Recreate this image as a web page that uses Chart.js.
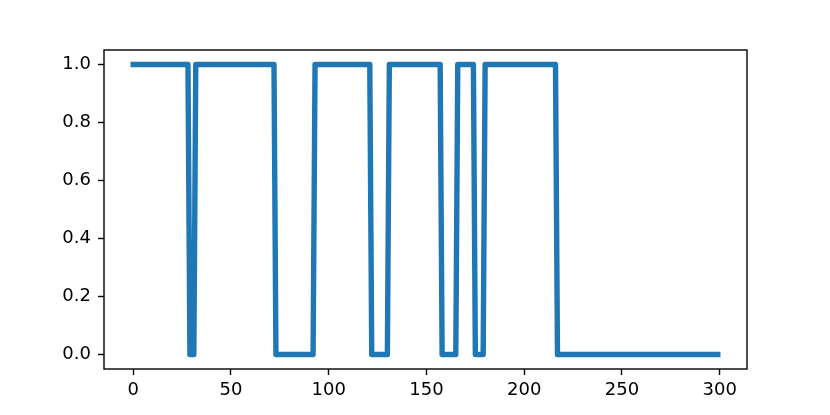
<!DOCTYPE html>
<html>
<head>
<meta charset="utf-8">
<script src="https://cdn.jsdelivr.net/npm/chart.js@4.4.1/dist/chart.umd.min.js"></script>
<style>
    body { margin: 0; background: white; }
</style>
</head>
<body>
<canvas id="grafico" width="830" height="415"></canvas>
<script>
// vertices of the step line (x, y)
const puntosX = [0, 28, 29, 31, 32, 72, 73, 92, 93, 121, 122, 130, 131, 157, 158, 165, 166, 174, 175, 179, 180, 216, 217, 299];
const puntosY = [1, 1, 0, 0, 1, 1, 0, 0, 1, 1, 0, 0, 1, 1, 0, 0, 1, 1, 0, 0, 1, 1, 0, 0];

const ticksX = [0, 50, 100, 150, 200, 250, 300];
const ticksY = [0.0, 0.2, 0.4, 0.6, 0.8, 1.0];

const datos = [];
for (let i = 0; i < puntosX.length; i++) {
    datos.push({ x: puntosX[i], y: puntosY[i] });
}

const bgColor = {
    id: 'bgColor',
    beforeDraw: (chart) => {
        const { ctx, width, height } = chart;
        ctx.save();
        ctx.fillStyle = 'white';
        ctx.fillRect(0, 0, width, height);
        ctx.restore();
    }
};

// black frame around the plot area, like matplotlib spines
const marco = {
    id: 'marco',
    afterDraw: (chart) => {
        const { ctx, chartArea } = chart;
        ctx.save();
        ctx.strokeStyle = '#000';
        ctx.lineWidth = 1.4;
        ctx.strokeRect(chartArea.left, chartArea.top, chartArea.right - chartArea.left, chartArea.bottom - chartArea.top);
        ctx.restore();
    }
};

const fuente = { family: 'DejaVu Sans', size: 18 };

const ctx = document.getElementById('grafico').getContext('2d');
const chart = new Chart(ctx, {
    type: 'line',
    data: {
        datasets: [{
            data: datos,
            borderColor: '#1f77b4',
            borderWidth: 5.4,
            borderCapStyle: 'square',
            borderJoinStyle: 'round',
            pointRadius: 0,
            tension: 0,
            fill: false
        }]
    },
    options: {
        responsive: false,
        devicePixelRatio: 1,
        animation: false,
        layout: { padding: { top: 50, right: 83, left: 0, bottom: 0 } },
        plugins: {
            legend: { display: false },
            tooltip: { enabled: false }
        },
        scales: {
            x: {
                type: 'linear',
                min: -14.95,
                max: 313.95,
                afterFit: (scale) => { scale.height = 46; },
                afterBuildTicks: (scale) => { scale.ticks = ticksX.map(v => ({ value: v })); },
                border: { display: false },
                grid: { drawOnChartArea: false, drawTicks: true, tickLength: 6, tickWidth: 1.4, tickColor: '#000' },
                ticks: { color: '#000', font: fuente, padding: 5, maxRotation: 0 }
            },
            y: {
                type: 'linear',
                min: -0.05,
                max: 1.05,
                afterFit: (scale) => { scale.width = 104; },
                afterBuildTicks: (scale) => { scale.ticks = ticksY.map(v => ({ value: v })); },
                border: { display: false },
                grid: { drawOnChartArea: false, drawTicks: true, tickLength: 6, tickWidth: 1.4, tickColor: '#000' },
                ticks: {
                    color: '#000',
                    font: fuente,
                    padding: 7,
                    callback: (v) => Number(v).toFixed(1)
                }
            }
        }
    },
    plugins: [bgColor, marco]
});
</script>
</body>
</html>
